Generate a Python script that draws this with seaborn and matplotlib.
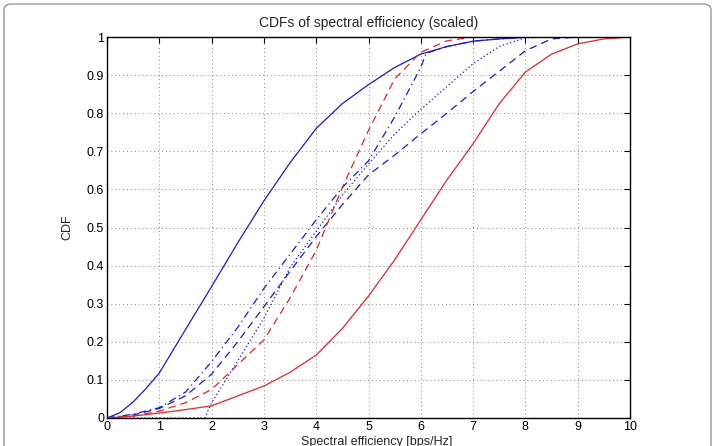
import matplotlib
matplotlib.use("Agg")
import matplotlib.pyplot as plt
import seaborn as sns
import pandas as pd
from matplotlib.patches import FancyBboxPatch

# ---- data ----
x_blue_solid = [0, 0.25, 0.5, 0.75, 1, 1.25, 1.5, 2, 2.5, 3, 3.5, 4, 4.5, 5, 5.5, 6, 6.5, 7, 7.5, 8, 8.5, 10]
y_blue_solid = [0, 0.014, 0.042, 0.078, 0.118, 0.175, 0.232, 0.345, 0.46, 0.57, 0.67, 0.76, 0.825, 0.875, 0.92, 0.955, 0.975, 0.989, 0.995, 0.999, 1.0, 1.0]

x_blue_dashdot = [0, 0.5, 1, 1.5, 2, 2.5, 3, 3.5, 4, 4.5, 5, 5.5, 6, 6.1, 6.5, 7, 7.5, 8, 8.5, 10]
y_blue_dashdot = [0, 0.01, 0.027, 0.068, 0.148, 0.238, 0.34, 0.43, 0.52, 0.605, 0.675, 0.79, 0.92, 0.957, 0.975, 0.989, 0.995, 0.999, 1.0, 1.0]

x_blue_dashed = [0, 0.5, 1, 1.5, 2, 2.5, 3, 3.5, 4, 4.5, 5, 5.5, 6, 6.5, 7, 7.5, 8, 8.5, 9, 10]
y_blue_dashed = [0, 0.008, 0.025, 0.058, 0.115, 0.2, 0.292, 0.385, 0.476, 0.56, 0.638, 0.69, 0.746, 0.80, 0.857, 0.91, 0.964, 0.995, 1.0, 1.0]

x_blue_dotted = [0, 1.87, 2, 2.5, 3, 3.5, 4, 4.5, 5, 5.5, 6, 6.5, 7, 7.5, 8, 8.5, 10]
y_blue_dotted = [0, 0, 0.04, 0.15, 0.262, 0.395, 0.49, 0.585, 0.667, 0.745, 0.81, 0.87, 0.93, 0.975, 0.998, 1.0, 1.0]

x_red_dashed = [0, 0.5, 1, 1.5, 2, 2.5, 3, 3.5, 4, 4.5, 5, 5.5, 6, 6.5, 7, 10]
y_red_dashed = [0, 0.005, 0.018, 0.04, 0.075, 0.14, 0.205, 0.315, 0.44, 0.605, 0.755, 0.89, 0.96, 0.99, 1.0, 1.0]

x_red_solid = [0, 0.5, 1, 1.5, 2, 2.5, 3, 3.5, 4, 4.5, 5, 5.5, 6, 6.5, 7, 7.5, 8, 8.5, 9, 9.5, 10]
y_red_solid = [0, 0.005, 0.013, 0.022, 0.032, 0.058, 0.084, 0.12, 0.165, 0.235, 0.32, 0.415, 0.52, 0.625, 0.72, 0.825, 0.908, 0.955, 0.982, 0.995, 1.0]

x_ticks = [0, 1, 2, 3, 4, 5, 6, 7, 8, 9, 10]
y_ticks = [0, 0.1, 0.2, 0.3, 0.4, 0.5, 0.6, 0.7, 0.8, 0.9, 1]
y_tick_labels = ["0", "0.1", "0.2", "0.3", "0.4", "0.5", "0.6", "0.7", "0.8", "0.9", "1"]

title = "CDFs of spectral efficiency (scaled)"
xlabel = "Spectral efficiency [bps/Hz]"
ylabel = "CDF"

# ---- style ----
sns.set_theme(style="white")
plt.rcParams["font.family"] = ["Liberation Sans", "DejaVu Sans"]

fig = plt.figure(figsize=(7.14, 4.46), dpi=100)
ax = fig.add_axes([107 / 714, (446 - 418) / 446, (630 - 107) / 714, (418 - 37) / 446])

BLUE = "#1a1ad6"
RED = "#e3262a"
lw = 0.9

series = [
    (x_blue_solid, y_blue_solid, BLUE, "-"),
    (x_blue_dashdot, y_blue_dashdot, BLUE, (0, (6, 3, 1, 3))),
    (x_blue_dashed, y_blue_dashed, BLUE, (0, (6, 4))),
    (x_blue_dotted, y_blue_dotted, BLUE, (0, (1, 2))),
    (x_red_dashed, y_red_dashed, RED, (0, (6, 4))),
    (x_red_solid, y_red_solid, RED, "-"),
]
for xs, ys, col, ls in series:
    df = pd.DataFrame({"x": xs, "y": ys})
    sns.lineplot(data=df, x="x", y="y", ax=ax, color=col, linestyle=ls,
                 linewidth=lw, estimator=None, sort=False)

ax.set_xlim(0, 10)
ax.set_ylim(0, 1)
ax.set_xticks(x_ticks)
ax.set_yticks(y_ticks)
ax.set_yticklabels(y_tick_labels)
ax.tick_params(direction="in", length=4, width=0.8, top=True, right=True,
               labelsize=9, colors="black", pad=2)
ax.grid(True, linestyle=(0, (1, 3)), color="#888888", linewidth=0.7)
for s in ax.spines.values():
    s.set_color("black")
    s.set_linewidth(1.0)
    s.set_visible(True)

ax.set_title(title, fontsize=10, pad=7)
ax.set_xlabel(xlabel, fontsize=9, labelpad=0)
ax.xaxis.set_label_coords(0.515, -0.046)
ax.set_ylabel(ylabel, fontsize=9, labelpad=10)

# rounded gray border around figure
border = FancyBboxPatch((4 / 714, -20 / 446), 707 / 714, 462 / 446,
                        boxstyle="round,pad=0,rounding_size=0.012",
                        transform=fig.transFigure, fill=False,
                        edgecolor="#999999", linewidth=1.0, clip_on=False)
fig.patches.append(border)

fig.savefig("out.png", dpi=100)
